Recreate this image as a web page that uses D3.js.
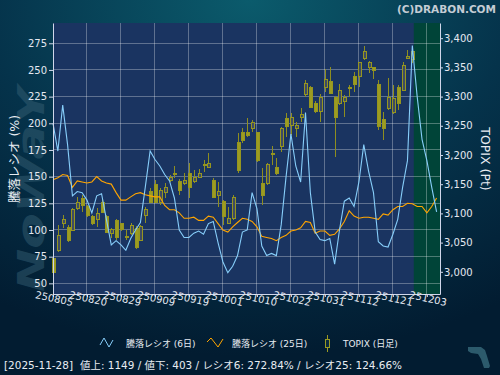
<!DOCTYPE html>
<html>
<head>
<meta charset="utf-8">
<script src="https://cdn.jsdelivr.net/npm/d3@7"></script>
<style>
body { margin: 0; background: #021c30; }
svg { display: block; }
text { font-family: "DejaVu Sans", "Noto Sans CJK JP", sans-serif; }
</style>
</head>
<body>
<div id="chart"></div>
<script>
// x axis labels (trading day index of each label)
var dateLabels = ["250805","250820","250829","250909","250919","251001","251010","251022","251031","251112","251121","251203"];
var tickIdx = [0,7,14,21,28,35,42,49,56,63,70,77];

var leftTicks = [50,75,100,125,150,175,200,225,250,275];
var rightTicks = [3000,3050,3100,3150,3200,3250,3300,3350,3400];

// 騰落レシオ 6日 / 25日 (%)
var ratio6 = [200,174,217,180,132,136,135,128,116,132,
              134,110,86,90,86,81,92,100,107,140,
              174,166,160,152,146,130,100,93,93,97,
              99,96,106,108,88,70,60,66,76,98,
              100,135,120,85,76,78,76,105,150,190,
              160,145,210,135,98,91,90,92,68,100,
              127,130,122,145,180,155,135,89,85,84,
              96,110,140,165,272.84,225,185,165,140,117];
var ratio25 = [147,149,152,151,140,146,145,144,145,150,
               146,144,143,135,128,128,131,134,135,133,
               132,131,131,123,119,119,116,111,111,112,
               109,109,113,112,106,100,98,103,107,111,
               110,108,103,94,93,92,90,93,95,99,
               100,102,108,107,97,99,99,95,96,101,
               108,118,113,111,112,112,111,110,115,114,
               119,122,122,125,124.66,122,122,116,122,130];

// TOPIX daily candles
var topixOpen = [3023,3037,3082,3076,3071,3109,3126,3111,3094,3089,
                 3119,3094,3066,3088,3082,3061,3066,3075,3054,3097,
                 3137,3149,3119,3135,3157,3169,3154,3152,3169,3154,
                 3162,3183,3179,3157,3131,3121,3083,3092,3222,3238,
                 3239,3246,3238,3152,3152,3200,3178,3214,3263,3250,
                 3246,3265,3303,3316,3289,3275,3315,3325,3299,3289,
                 3292,3315,3335,3334,3366,3349,3349,3320,3260,3280,
                 3272,3316,3311,3365,3363];
var topixClose = [2999,3063,3090,3054,3106,3119,3114,3097,3083,3099,
                  3102,3068,3073,3058,3073,3059,3080,3041,3078,3106,
                  3119,3119,3140,3145,3162,3166,3140,3157,3145,3162,
                  3169,3184,3186,3128,3137,3094,3092,3128,3174,3224,
                  3234,3255,3191,3131,3183,3203,3169,3246,3248,3265,
                  3251,3270,3323,3282,3275,3299,3330,3306,3265,3311,
                  3298,3316,3320,3358,3378,3358,3344,3248,3245,3298,
                  3296,3289,3354,3368,3377];
var topixHigh = [3037,3080,3097,3080,3109,3128,3131,3114,3097,3109,
                 3126,3097,3075,3090,3083,3071,3083,3078,3080,3111,
                 3143,3157,3143,3152,3166,3181,3159,3169,3186,3174,
                 3176,3191,3203,3160,3154,3123,3111,3131,3238,3246,
                 3263,3260,3238,3178,3186,3215,3195,3248,3272,3272,
                 3256,3280,3329,3318,3292,3304,3347,3351,3301,3322,
                 3303,3320,3342,3359,3387,3361,3351,3329,3274,3332,
                 3320,3320,3359,3380,3377];
var topixLow = [2998,3034,3075,3051,3070,3106,3102,3094,3080,3076,
                3100,3066,3058,3054,3070,3054,3063,3039,3052,3083,
                3118,3118,3114,3126,3154,3160,3131,3148,3126,3152,
                3160,3171,3179,3128,3111,3080,3083,3089,3169,3220,
                3231,3239,3188,3114,3148,3183,3166,3205,3231,3234,
                3231,3256,3299,3280,3272,3256,3308,3304,3196,3286,
                3265,3299,3308,3316,3363,3340,3330,3243,3226,3277,
                3270,3277,3310,3365,3358];

var W = 500, H = 375;
var plotL = 53, plotR = 440, plotT = 23, plotB = 294;

var svg = d3.select("#chart").append("svg")
    .attr("width", W)
    .attr("height", H);

var defs = svg.append("defs");
var bg = defs.append("radialGradient").attr("id", "bg")
    .attr("cx", "50%").attr("cy", "0%").attr("r", "95%");
bg.append("stop").attr("offset", "0%").attr("stop-color", "#0b5b6c");
bg.append("stop").attr("offset", "55%").attr("stop-color", "#05334b");
bg.append("stop").attr("offset", "100%").attr("stop-color", "#021c31");

svg.append("rect").attr("width", W).attr("height", H).attr("fill", "url(#bg)");

// watermark
svg.append("text")
    .attr("transform", "translate(44,292) rotate(-90)")
    .attr("font-size", 38)
    .attr("font-weight", "bold")
    .attr("font-style", "italic")
    .attr("fill", "#3a6478")
    .attr("opacity", 0.45)
    .attr("textLength", 205)
    .attr("lengthAdjust", "spacingAndGlyphs")
    .text("NoWaY");

svg.append("path")
    .attr("d", "M468,347 L481,347 L485,350 L487,356 L490,366 L489,368 L484,368 L481,359 L478,354 L471,353 L468,351 Z")
    .attr("fill", "#2c5a6c");

svg.append("text")
    .attr("x", 496).attr("y", 13)
    .attr("text-anchor", "end")
    .attr("font-size", 10.5)
    .attr("font-weight", "bold")
    .attr("fill", "#c4ccd4")
    .text("(C)DRABON.COM");

var x = d3.scaleLinear().domain([0, 79.7]).range([plotL, plotR]);
var yL = d3.scaleLinear().domain([40, 294]).range([plotB, plotT]);
var yR = d3.scaleLinear().domain([2962, 3426]).range([plotB, plotT]);

var lastIdx = topixClose.length - 1;

svg.append("rect")
    .attr("x", plotL).attr("y", plotT)
    .attr("width", plotR - plotL).attr("height", plotB - plotT)
    .attr("fill", "#1a3461");
svg.append("rect")
    .attr("x", x(lastIdx + 0.3)).attr("y", plotT)
    .attr("width", plotR - x(lastIdx + 0.3)).attr("height", plotB - plotT)
    .attr("fill", "#004438");

// grid
var grid = svg.append("g").attr("shape-rendering", "crispEdges");
grid.selectAll(".vg").data(tickIdx.slice(1)).enter().append("line")
    .attr("x1", function (d) { return x(d); })
    .attr("x2", function (d) { return x(d); })
    .attr("y1", plotT).attr("y2", plotB)
    .attr("stroke", "rgba(255,255,255,0.3)");
grid.selectAll(".hg").data(leftTicks).enter().append("line")
    .attr("x1", plotL).attr("x2", plotR)
    .attr("y1", function (d) { return yL(d); })
    .attr("y2", function (d) { return yL(d); })
    .attr("stroke", "rgba(255,255,255,0.3)");

var plot = svg.append("g");

// candles
var candles = plot.selectAll(".candle")
    .data(topixClose.map(function (c, i) {
        return { i: i, o: topixOpen[i], h: topixHigh[i], l: topixLow[i], c: c };
    }))
    .enter().append("g")
    .attr("shape-rendering", "crispEdges");

candles.append("line")
    .attr("x1", function (d) { return Math.round(x(d.i)) + 0.5; })
    .attr("x2", function (d) { return Math.round(x(d.i)) + 0.5; })
    .attr("y1", function (d) { return yR(d.h); })
    .attr("y2", function (d) { return yR(d.l); })
    .attr("stroke", "#8e8e20");

candles.append("rect")
    .attr("x", function (d) { return Math.round(x(d.i)) - 1; })
    .attr("y", function (d) { return yR(Math.max(d.o, d.c)); })
    .attr("width", 3)
    .attr("height", function (d) { return Math.max(1, Math.abs(yR(d.o) - yR(d.c))); })
    .attr("fill", function (d) { return d.c >= d.o ? "#3f4b63" : "#9c9c22"; })
    .attr("stroke", "#96961f");

// ratio lines
var line = d3.line()
    .x(function (d, i) { return x(i); })
    .y(function (d) { return yL(d); });

plot.append("path")
    .datum(ratio25)
    .attr("d", line)
    .attr("fill", "none")
    .attr("stroke", "#ffa500")
    .attr("stroke-width", 1.1);

plot.append("path")
    .datum(ratio6)
    .attr("d", line)
    .attr("fill", "none")
    .attr("stroke", "#87cefa")
    .attr("stroke-width", 1.1);

// axes
function styleAxis(g) {
    g.selectAll(".domain").attr("stroke", "#d0d6ea");
    g.selectAll(".tick line").attr("stroke", "#d0d6ea");
    g.selectAll(".tick text").attr("fill", "#e4e8f0").attr("font-size", 10)
        .attr("font-family", "DejaVu Sans");
}

var gL = svg.append("g")
    .attr("transform", "translate(" + plotL + ",0)")
    .call(d3.axisLeft(yL).tickValues(leftTicks).tickSize(4).tickPadding(2).tickSizeOuter(0));
styleAxis(gL);

var gR = svg.append("g")
    .attr("transform", "translate(" + plotR + ",0)")
    .call(d3.axisRight(yR).tickValues(rightTicks).tickSize(3).tickPadding(1).tickSizeOuter(0)
        .tickFormat(d3.format(",")));
styleAxis(gR);

var gB = svg.append("g")
    .attr("transform", "translate(0," + plotB + ")")
    .call(d3.axisBottom(x).tickValues(tickIdx).tickSize(3).tickSizeOuter(0)
        .tickFormat(function (d, k) { return dateLabels[k]; }));
styleAxis(gB);
gB.selectAll(".tick text")
    .attr("y", 0).attr("dy", 0)
    .attr("transform", "translate(0,8) rotate(12)")
    .attr("text-anchor", "middle")
    .attr("font-size", 10);

// axis titles
svg.append("text")
    .attr("transform", "translate(19,159) rotate(-90)")
    .attr("text-anchor", "middle")
    .attr("font-size", 12.5)
    .attr("fill", "#e8ecf2")
    .text("騰落レシオ (%)");

svg.append("text")
    .attr("transform", "translate(481,159) rotate(90)")
    .attr("text-anchor", "middle")
    .attr("font-size", 12.5)
    .attr("fill", "#e8ecf2")
    .text("TOPIX (Pt)");

// legend
var legend = svg.append("g").attr("font-size", 9).attr("fill", "#e8ecf2");
legend.append("polyline")
    .attr("points", "100,345 104,338 109,347 113,340")
    .attr("fill", "none").attr("stroke", "#87cefa");
legend.append("text").attr("x", 126).attr("y", 347).text("騰落レシオ (6日)");
legend.append("polyline")
    .attr("points", "207,342 211,338 218,347 223,339")
    .attr("fill", "none").attr("stroke", "#ffa500");
legend.append("text").attr("x", 232).attr("y", 347).text("騰落レシオ (25日)");
legend.append("line")
    .attr("x1", 327.5).attr("x2", 327.5).attr("y1", 335).attr("y2", 352)
    .attr("stroke", "#9a9a22");
legend.append("rect")
    .attr("x", 325.5).attr("y", 339.5).attr("width", 4).attr("height", 8)
    .attr("fill", "#0a2a40").attr("stroke", "#9a9a22");
legend.append("text").attr("x", 343).attr("y", 347).text("TOPIX (日足)");

// status line
var statusG = svg.append("g").attr("font-size", 10).attr("fill", "#e8ecf2");
statusG.append("text").attr("x", 4).attr("y", 369)
    .attr("textLength", 69).attr("lengthAdjust", "spacingAndGlyphs")
    .text("[2025-11-28]");
statusG.append("text").attr("x", 80).attr("y", 369)
    .attr("textLength", 322).attr("lengthAdjust", "spacingAndGlyphs")
    .text("値上: 1149 / 値下: 403 / レシオ6: 272.84% / レシオ25: 124.66%");
</script>
</body>
</html>
